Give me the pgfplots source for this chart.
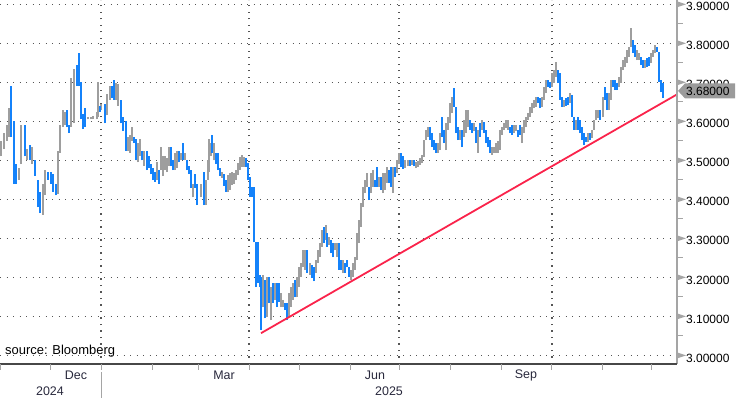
\documentclass[border=0pt]{standalone}
\usepackage{pgfplots}
\pgfplotsset{compat=1.18}
\usepackage{pgfplotstable}
\usepackage{fontspec}
\setmainfont{Liberation Sans}
\definecolor{barblue}{RGB}{20,130,250}
\definecolor{bargray}{RGB}{158,158,158}
\definecolor{trendred}{RGB}{250,35,75}
\definecolor{griddot}{RGB}{85,85,85}
\definecolor{lbl}{RGB}{40,40,60}
\definecolor{axgray}{RGB}{165,165,165}
\definecolor{boxgray}{RGB}{155,155,155}
% up (gray) bars: x lo hi
\pgfplotstableread{
x lo hi
1 3.51 3.55
4 3.53 3.57
7 3.55 3.59
8.5 3.56 3.635
18.5 3.45 3.48
21 3.49 3.59
27 3.50 3.53
32 3.49 3.535
42.5 3.36 3.44
45 3.41 3.475
57.5 3.415 3.525
60 3.52 3.59
62.5 3.585 3.63
64.5 3.59 3.625
71 3.585 3.71
74 3.595 3.735
88 3.605 3.612
90.5 3.605 3.612
93 3.605 3.613
96.5 3.605 3.625
97.5 3.61 3.70
101 3.63 3.645
107 3.615 3.67
110 3.655 3.69
116 3.655 3.698
118 3.64 3.695
127.5 3.525 3.56
129.5 3.52 3.565
131.5 3.55 3.585
137.5 3.495 3.545
140 3.51 3.555
144 3.485 3.525
156.5 3.45 3.495
160.5 3.475 3.535
162.5 3.46 3.51
164.5 3.475 3.51
166.5 3.47 3.505
168.5 3.485 3.535
174.5 3.475 3.52
176.5 3.48 3.525
180.5 3.50 3.52
184.5 3.50 3.52
192.5 3.405 3.44
201 3.405 3.44
206 3.385 3.45
207.5 3.45 3.50
209 3.47 3.555
210.5 3.51 3.545
214 3.50 3.545
222 3.455 3.47
228 3.42 3.462
230 3.425 3.467
232 3.437 3.47
234 3.44 3.467
236 3.449 3.475
238 3.462 3.493
240 3.475 3.508
242 3.483 3.514
244 3.483 3.508
263 3.124 3.206
267 3.098 3.201
271 3.09 3.175
275 3.142 3.185
281 3.124 3.16
283 3.124 3.142
289 3.098 3.16
291 3.124 3.175
293 3.142 3.185
297 3.149 3.201
299 3.175 3.226
301 3.201 3.237
303 3.226 3.27
305 3.219 3.27
310 3.206 3.237
316 3.211 3.244
318 3.237 3.27
320 3.252 3.288
322 3.278 3.321
325.5 3.296 3.334
329 3.283 3.303
335 3.27 3.288
337 3.252 3.288
343 3.211 3.244
351 3.193 3.219
353 3.201 3.237
355 3.219 3.252
357 3.244 3.314
359 3.288 3.347
361 3.329 3.39
363 3.38 3.432
365 3.416 3.449
367 3.432 3.467
371 3.416 3.467
373 3.432 3.475
379 3.432 3.457
383 3.416 3.467
385 3.424 3.467
387 3.442 3.483
393 3.416 3.483
397 3.467 3.501
399 3.49 3.519
405 3.48 3.501
408 3.485 3.501
412 3.488 3.501
416 3.48 3.496
418 3.483 3.498
420 3.488 3.506
422 3.493 3.514
424 3.508 3.552
426 3.552 3.578
428 3.56 3.585
438 3.519 3.544
440 3.526 3.57
446 3.526 3.596
448 3.578 3.611
450 3.596 3.647
452 3.621 3.662
460 3.552 3.578
464 3.56 3.603
466 3.57 3.629
468 3.585 3.629
474 3.575 3.596
478 3.519 3.578
482 3.578 3.603
492 3.514 3.534
494 3.52 3.534
496 3.519 3.544
498 3.52 3.55
500 3.526 3.578
502 3.565 3.585
504 3.578 3.596
506 3.583 3.603
508 3.578 3.603
514 3.57 3.59
516 3.575 3.59
522 3.544 3.585
524 3.57 3.603
526 3.585 3.611
528 3.603 3.621
530 3.611 3.637
532 3.621 3.647
534 3.634 3.655
536 3.637 3.662
542 3.637 3.662
544 3.655 3.688
546 3.672 3.706
552 3.688 3.724
554 3.698 3.731
556 3.714 3.752
564 3.637 3.655
570 3.647 3.672
576 3.578 3.603
588 3.547 3.57
592 3.557 3.578
594 3.578 3.603
596 3.603 3.629
598 3.608 3.629
603 3.611 3.662
609 3.629 3.672
611 3.655 3.706
619 3.688 3.714
621 3.698 3.739
623 3.731 3.757
625 3.739 3.765
627 3.749 3.783
629 3.765 3.790
631 3.790 3.839
637 3.757 3.783
639 3.757 3.775
645 3.737 3.757
651 3.749 3.775
653 3.765 3.783
655 3.775 3.796
}\upbars
% down (blue) bars: x lo hi
\pgfplotstableread{
x lo hi
11 3.56 3.69
13.5 3.44 3.60
16 3.44 3.49
24.5 3.51 3.59
29.5 3.50 3.54
35 3.46 3.50
38 3.38 3.45
40 3.365 3.42
48 3.45 3.47
50.5 3.44 3.47
53 3.42 3.465
55.5 3.41 3.44
66.5 3.585 3.63
68.5 3.57 3.59
77 3.69 3.745
78.5 3.69 3.775
80.5 3.605 3.70
82.5 3.58 3.62
85 3.585 3.635
99.5 3.625 3.64
104.5 3.595 3.645
112 3.66 3.69
114 3.655 3.705
120.5 3.595 3.655
123 3.575 3.61
125.5 3.525 3.60
133.5 3.545 3.56
135.5 3.50 3.555
142 3.50 3.525
146.5 3.475 3.525
148.5 3.48 3.51
150.5 3.465 3.49
152.5 3.45 3.48
154.5 3.445 3.47
158.5 3.44 3.475
170.5 3.485 3.535
172.5 3.475 3.50
178.5 3.495 3.525
182.5 3.50 3.545
186.5 3.475 3.50
188.5 3.465 3.485
190.5 3.43 3.475
194.5 3.43 3.465
196.5 3.385 3.44
203.5 3.385 3.47
212 3.52 3.565
216 3.49 3.52
218 3.475 3.52
220 3.46 3.48
224 3.435 3.465
226 3.42 3.45
246 3.483 3.506
248 3.45 3.493
250 3.406 3.457
252 3.406 3.432
254 3.29 3.432
256 3.175 3.29
258 3.185 3.29
259.5 3.175 3.206
261 3.065 3.20
265 3.095 3.193
269 3.134 3.201
273 3.134 3.185
277 3.124 3.185
279 3.137 3.185
285 3.116 3.134
287 3.09 3.134
295 3.149 3.193
307 3.211 3.27
312 3.198 3.232
314 3.19 3.226
324 3.288 3.329
327 3.278 3.314
331 3.262 3.296
333 3.252 3.288
339 3.219 3.288
341 3.219 3.244
345 3.211 3.237
347 3.226 3.244
349 3.201 3.226
369 3.398 3.432
375 3.432 3.449
377 3.432 3.483
381 3.424 3.457
389 3.442 3.475
391 3.432 3.483
395 3.457 3.483
401 3.483 3.519
403 3.478 3.51
410 3.485 3.501
414 3.485 3.501
430 3.552 3.585
432 3.534 3.57
434 3.526 3.552
436 3.519 3.544
442 3.56 3.611
444 3.544 3.578
454 3.637 3.685
456 3.57 3.637
458 3.552 3.585
462 3.534 3.578
470 3.578 3.603
472 3.57 3.596
476 3.544 3.585
480 3.56 3.596
484 3.57 3.598
486 3.544 3.578
488 3.534 3.56
490 3.519 3.552
510 3.57 3.585
512 3.565 3.59
518 3.56 3.578
520 3.565 3.59
538 3.647 3.662
540 3.634 3.66
548 3.688 3.706
550 3.685 3.701
558 3.698 3.731
560 3.655 3.724
562 3.637 3.662
566 3.64 3.66
568 3.642 3.662
572 3.611 3.667
574 3.578 3.611
578 3.578 3.611
580 3.57 3.603
582 3.552 3.585
584 3.539 3.57
586 3.547 3.56
590 3.552 3.57
600 3.603 3.629
605 3.655 3.688
607 3.629 3.672
613 3.688 3.706
615 3.680 3.706
617 3.680 3.698
633 3.775 3.808
635 3.765 3.796
641 3.744 3.765
643 3.737 3.757
647 3.739 3.762
649 3.742 3.765
657 3.778 3.790
659 3.701 3.778
661 3.675 3.706
663 3.66 3.698
}\downbars
\begin{document}
\begin{tikzpicture}
\begin{axis}[
  scale only axis, width=677bp, height=364bp,
  xmin=0, xmax=677, ymin=2.978, ymax=3.911,
  clip=false,
  axis line style={draw=none},
  xtick=\empty, ytick=\empty,
]
% grid
\pgfplotsinvokeforeach{3.0,3.1,3.2,3.3,3.4,3.5,3.6,3.7,3.8,3.9}{
  \draw[griddot, line width=1.2bp, dash pattern=on 1.3bp off 5.2bp] (axis cs:0,#1) -- (axis cs:677,#1);
}
\pgfplotsinvokeforeach{101,249,399,552}{
  \draw[griddot, line width=1.2bp, dash pattern=on 1.3bp off 5.2bp] (axis cs:#1,2.978) -- (axis cs:#1,3.911);
}
\addplot[draw=none, mark=none, forget plot, error bars/.cd, y dir=plus, y explicit, error mark=none,
  error bar style={draw=bargray, line width=2bp}]
  table[x=x, y=lo, y error plus expr=\thisrow{hi}-\thisrow{lo}] {\upbars};
\addplot[draw=none, mark=none, forget plot, error bars/.cd, y dir=plus, y explicit, error mark=none,
  error bar style={draw=barblue, line width=2bp}]
  table[x=x, y=lo, y error plus expr=\thisrow{hi}-\thisrow{lo}] {\downbars};
\addplot[trendred, line width=1.8bp, mark=none] coordinates {(261,3.057) (677,3.669)};
% axes
\draw[axgray, line width=1.2bp] (axis cs:677,3.911) -- (axis cs:677,2.978);
\draw[black!72, line width=1.3bp] (axis cs:0,2.978) -- (axis cs:677,2.978);
\pgfplotsinvokeforeach{3.05,3.15,3.25,3.35,3.45,3.55,3.65,3.75,3.85}{
  \draw[axgray, line width=1bp] (axis cs:677,#1) -- ++(6bp,0bp);
}
\pgfplotsinvokeforeach{3.0,3.1,3.2,3.3,3.4,3.5,3.6,3.7,3.8,3.9}{
  \fill[axgray] (axis cs:677,#1) ++(0bp,3bp) -- ++(9bp,-3bp) -- ++(-9bp,-3bp) -- cycle;
  \node[anchor=west, inner sep=0pt, yshift=-2.5bp, font=\fontsize{12}{14}\selectfont] at (axis cs:686,#1) {#10000};
}
% last price box
\fill[boxgray] (axis cs:678,3.678) -- ++(7bp,7.5bp) -- ++(50bp,0bp) -- ++(0bp,-15bp) -- ++(-50bp,0bp) -- cycle;
\node[anchor=west, inner sep=0pt, font=\fontsize{12}{14}\selectfont] at (axis cs:686,3.678) {3.68000};
% x ticks
\pgfplotsinvokeforeach{0.5,50,101,152,198,249,299,350,399,450,501.5,551,602,651}{
  \draw[axgray, line width=1bp] (axis cs:#1,2.978) -- ++(0bp,-6bp);
}
\draw[axgray, line width=1bp] (axis cs:101,2.958) -- (axis cs:101,2.8905);
\node[lbl, font=\fontsize{12.5}{14}\selectfont] at (axis cs:76,2.9495) {Dec};
\node[lbl, font=\fontsize{12.5}{14}\selectfont] at (axis cs:224,2.9495) {Mar};
\node[lbl, font=\fontsize{12.5}{14}\selectfont] at (axis cs:375,2.9495) {Jun};
\node[lbl, font=\fontsize{12.5}{14}\selectfont] at (axis cs:526,2.9495) {Sep};
\node[lbl, font=\fontsize{12.5}{14}\selectfont] at (axis cs:50,2.9084) {2024};
\node[lbl, font=\fontsize{12.5}{14}\selectfont] at (axis cs:389,2.9084) {2025};
\node[anchor=base west, inner sep=0pt, font=\fontsize{13}{15}\selectfont] at (axis cs:5,3.002) {source: Bloomberg};
\coordinate (BL) at (axis cs:0,2.978);
\coordinate (TR) at (axis cs:677,3.911);
\end{axis}
\pgfresetboundingbox
\useasboundingbox ([yshift=-34bp]BL) rectangle ([xshift=59bp]TR);
\end{tikzpicture}
\end{document}
